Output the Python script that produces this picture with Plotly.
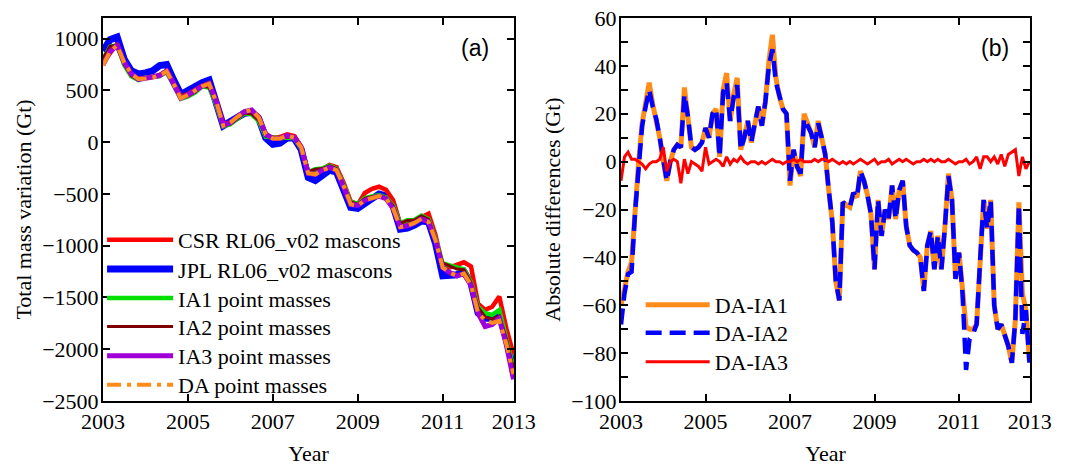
import plotly.graph_objects as go

# ---------------- panel (a): total mass variation (Gt), bimonthly samples ----------------
t_a = [2003 + k / 6 for k in range(59)]

csr = [770, 860, 950, 760, 640, 615, 620,
       630, 650, 690, 570, 440,
       465, 510, 545, 570, 400, 175,
       190, 240, 280, 305, 250, 80,
       40, 50, 75, 60, -40, -300,
       -310, -260, -220, -240, -390, -570,
       -600, -490, -450, -430, -460, -560,
       -790, -790, -760, -720, -690, -900,
       -1200, -1210, -1190, -1160, -1200, -1560,
       -1620, -1590, -1490, -1800, -2050]

jpl = [880, 990, 1015, 800, 690, 660, 670,
       690, 740, 750, 600, 460,
       500, 540, 575, 600, 400, 160,
       200, 250, 280, 290, 230, 40,
       -20, -10, 40, 40, -70, -340,
       -370, -320, -270, -290, -450, -630,
       -640, -590, -540, -500, -520, -620,
       -840, -830, -800, -760, -770, -980,
       -1290, -1290, -1280, -1250, -1360, -1650,
       -1700, -1700, -1670, -1900, -2200]

ia1 = [800, 922, 935, 746, 636, 600, 623,
       630, 640, 679, 540, 419,
       442, 480, 538, 528, 362, 155,
       173, 230, 280, 269, 205, 53,
       46, 38, 45, 39, -60, -288,
       -260, -253, -226, -255, -412, -578,
       -596, -540, -525, -510, -533, -613,
       -783, -754, -751, -709, -743, -934,
       -1172, -1191, -1220, -1229, -1352, -1590,
       -1652, -1668, -1620, -1880, -2180]

ia2 = [808, 925, 938, 750, 640, 602, 622,
       632, 642, 680, 545, 422,
       445, 482, 540, 532, 365, 158,
       175, 232, 282, 273, 210, 58,
       48, 40, 48, 42, -55, -285,
       -262, -255, -228, -256, -410, -578,
       -598, -542, -527, -512, -535, -615,
       -785, -756, -752, -712, -745, -936,
       -1165, -1195, -1225, -1232, -1355, -1592,
       -1690, -1710, -1680, -1900, -2190]

ia3 = [748, 878, 934, 772, 661, 608, 618,
       628, 644, 690, 562, 425,
       455, 500, 541, 563, 391, 161,
       190, 246, 296, 311, 240, 76,
       36, 36, 64, 45, -51, -301,
       -309, -270, -244, -270, -421, -601,
       -611, -560, -540, -521, -546, -639,
       -821, -808, -781, -741, -770, -951,
       -1211, -1260, -1290, -1272, -1382, -1652,
       -1780, -1760, -1700, -1960, -2290]

da = [740, 880, 935, 770, 660, 610, 615,
      625, 645, 685, 560, 424,
      456, 500, 540, 565, 390, 160,
      190, 246, 295, 311, 240, 75,
      36, 36, 65, 45, -50, -300,
      -310, -270, -245, -270, -420, -600,
      -612, -560, -540, -520, -545, -640,
      -820, -808, -780, -740, -770, -950,
      -1210, -1260, -1290, -1270, -1380, -1650,
      -1720, -1745, -1725, -1950, -2240]

# ---------------- panel (b): absolute differences (Gt), monthly samples ----------------
t_b = [2003 + k / 12 for k in range(117)]

da_ia1 = [-60, -52,
          -46, -42, -20, 0, 16, 24, 33, 24, 18, 10, 0, -8, 0, 5, 7, 6, 31, 20, 6, 5,
          6,
          8, 14, 10, 20, 22, 2, 30, 37, 17, 28, 35, 5, 10, 17, 8, 16, 23, 15, 25, 42,
          53, 35, 27, 22, 20, -10, 5, -2, -6, 20,
          16,
          12, 6, 17, 10, 3, -12, -25, -50, -58, -17, -18, -19, -13, -15, -4, -8, -14,
          -22, -45, -16, -31, -20, -24, -10, -24, -12, -8, -27, -35, -37,
          -38,
          -40, -54, -35, -29, -45, -31, -45, -27, -5, -16, -49, -38, -55, -69, -70,
          -70, -68, -41, -16, -28, -16, -60, -70, -68, -72, -77, -84, -66, -17,
          -55, -62, -83]

da_ia2 = [-68, -55,
          -47, -46, -21, 0, 15, 23, 30, 23, 18, 10, 0, -8, 0, 5, 7, 6, 28, 19, 6, 5,
          6,
          8, 14, 10, 20, 22, 2, 29, 33, 17, 27, 32, 5, 10, 17, 8, 16, 23, 15, 25, 40,
          47, 33, 27, 22, 20, -8, 5, -2, -5, 18,
          15,
          12, 6, 16, 10, 3, -12, -25, -50, -58, -17, -18, -19, -13, -15, -4, -8, -14,
          -22, -45, -16, -31, -20, -24, -10, -24, -12, -8, -27, -35, -37,
          -38,
          -40, -54, -35, -29, -45, -31, -45, -27, -6, -16, -49, -38, -55, -87, -74,
          -72, -68, -41, -16, -28, -16, -60, -70, -68, -72, -77, -84, -66, -18,
          -72, -62, -84]

da_ia3 = [-8, 2,
          4, 1, 1, 0, -1, -3, -1, 0, 0, 1, 6, -4, 0, 1, 0, -9, 1, -5, 0, -1,
          -2,
          -4, 6, -1, 0, 1, 0, -2, 2, -1, 1, 0, 2, 0, -1, 0, 0, -1, 0, -1, 0,
          1, 0, 0, -1, 0, 0, 1, 0, 1, 0,
          0,
          0, 1, 0, 1, 1, 0, 1, 0, -1, 0, -1, 0, -1, 0, 1, 0, -1,
          0, 1, -1, 0, 0, 1, -1, 0, 1, 0, 1, 0, -1,
          0,
          0, 1, 0, 1, 0, 1, 0, 0, 1, 0, -1, 0, 0, 1, -1,
          0, 2, -3, 2, 2, 0, 2, -1, 3, -2, 3, 4, 5, -6,
          2, -3, 0]

x_ticks = [2003, 2005, 2007, 2009, 2011, 2012.675]
x_ticktext = ["2003", "2005", "2007", "2009", "2011", "2013"]
x_range = [2003, 2012.68]

SERIF = "Liberation Serif"
BLACK = "#000000"
ORANGE = "#FF8C1A"
PURPLE = "#A000D8"
GREEN = "#00E000"

fig = go.Figure()

# panel (a) traces: (name, values, colour, width, dash, legend id); drawn blue first
a_traces = [
    ("JPL RL06_v02 mascons", jpl, "#0000FF", 7, "solid", "legend2"),
    ("CSR RL06_v02 mascons", csr, "#FF0000", 4.5, "solid", "legend"),
    ("IA1 point masses", ia1, GREEN, 4.5, "solid", "legend3"),
    ("IA2 point masses", ia2, "#800000", 3, "solid", "legend4"),
    ("IA3 point masses", ia3, PURPLE, 5, "solid", "legend5"),
    ("DA point masses", da, ORANGE, 4, "14px,6px,4px,6px", "legend6"),
]
for name, vals, col, w, dash, lg in a_traces:
    fig.add_trace(go.Scatter(x=t_a, y=vals, name=name, mode="lines", showlegend=True,
                             line=dict(color=col, width=w, dash=dash),
                             xaxis="x", yaxis="y", legend=lg))

b_traces = [
    ("DA-IA1", da_ia1, ORANGE, 5, "solid", "legend7"),
    ("DA-IA2", da_ia2, "#0000FF", 4.5, "16px,8px", "legend8"),
    ("DA-IA3", da_ia3, "#FF0000", 3, "solid", "legend9"),
]
for name, vals, col, w, dash, lg in b_traces:
    fig.add_trace(go.Scatter(x=t_b, y=vals, name=name, mode="lines", showlegend=True,
                             line=dict(color=col, width=w, dash=dash),
                             xaxis="x2", yaxis="y2", legend=lg))

axis_common = dict(showline=True, linecolor=BLACK, linewidth=2, mirror="ticks",
                   ticks="inside", ticklen=7, tickwidth=2, tickcolor=BLACK,
                   showgrid=False, zeroline=False, automargin=False,
                   ticklabeloverflow="allow",
                   tickfont=dict(family=SERIF, size=22, color=BLACK))

leg_font = dict(family=SERIF, size=22, color=BLACK)


def make_legend(x, y, iw):
    return dict(x=x, y=y, xanchor="left", yanchor="middle", bgcolor="rgba(0,0,0,0)",
                font=leg_font, itemwidth=iw, borderwidth=0)


left_rows = [0.4204, 0.3439, 0.2681, 0.1940, 0.1175, 0.0418]
right_rows = [0.2507, 0.1775, 0.1018]
lx, rx = -0.0010, 0.5800

legends = {}
for i, yy in enumerate(left_rows):
    key = "legend" if i == 0 else "legend%d" % (i + 1)
    legends[key] = make_legend(lx, yy, 66)
for i, yy in enumerate(right_rows):
    legends["legend%d" % (i + 7)] = make_legend(rx, yy, 64)

# the page body adds an 8 px offset inside the 1071x466 window
fig.update_layout(
    width=1055, height=458,
    margin=dict(l=95, r=33, t=10, b=65),
    showlegend=True,
    paper_bgcolor="white", plot_bgcolor="white",
    font=dict(family=SERIF, size=22, color=BLACK),
    xaxis=dict(domain=[0, 0.4434], range=x_range, tickvals=x_ticks, ticktext=x_ticktext,
               anchor="y", ticklabelstandoff=0,
               title=dict(text="Year", font=dict(family=SERIF, size=22), standoff=24),
               **axis_common),
    yaxis=dict(domain=[0, 1], range=[-2500, 1200], dtick=500, tick0=0, anchor="x",
               ticklabelstandoff=-2,
               title=dict(text="Total mass variation (Gt)", font=dict(family=SERIF, size=22), standoff=4),
               **axis_common),
    xaxis2=dict(domain=[0.5588, 1], range=x_range, tickvals=x_ticks, ticktext=x_ticktext,
                anchor="y2", ticklabelstandoff=0,
                title=dict(text="Year", font=dict(family=SERIF, size=22), standoff=24),
                **axis_common),
    yaxis2=dict(domain=[0, 1], range=[-100, 60], dtick=20, tick0=0, anchor="x2",
                ticklabelstandoff=-2,
                minor=dict(dtick=10, ticks="inside", ticklen=7, tickwidth=2, tickcolor=BLACK),
                title=dict(text="Absolute differences (Gt)", font=dict(family=SERIF, size=22), standoff=4),
                **axis_common),
    annotations=[
        dict(text="(a)", x=0.401, y=0.9217, xref="paper", yref="paper", showarrow=False,
             xanchor="center", yanchor="middle",
             font=dict(family="Liberation Sans", size=23, color=BLACK)),
        dict(text="(b)", x=0.962, y=0.9217, xref="paper", yref="paper", showarrow=False,
             xanchor="center", yanchor="middle",
             font=dict(family="Liberation Sans", size=23, color=BLACK)),
    ],
    **legends,
)

fig.write_html("out.html")
